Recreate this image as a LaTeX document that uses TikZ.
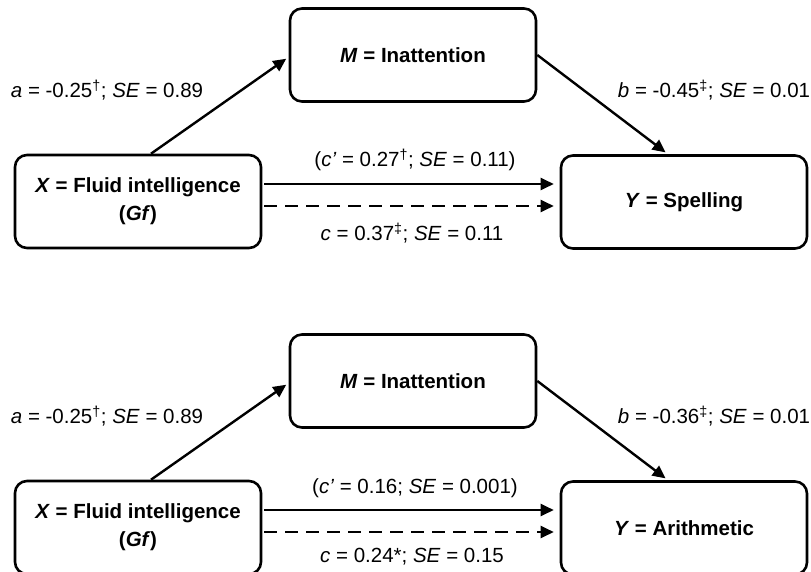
\documentclass[tikz,border=0pt]{standalone}
\usepackage{fontspec}
\setmainfont{Liberation Sans}
\usetikzlibrary{arrows.meta}

\begin{document}
\begin{tikzpicture}[x=1pt,y=-1pt,
	box/.style={draw,line width=2.6pt,rounded corners=12pt,minimum width=246pt,minimum height=93pt,inner sep=0pt,align=center,font=\fontsize{20.5}{28}\selectfont\bfseries},
	lab/.style={font=\fontsize{20.5}{28}\selectfont,inner sep=0pt},
	link/.style={line width=2.4pt,-{Triangle[length=13pt,width=12pt]},shorten >=3pt}]
	
	\useasboundingbox (0,0) rectangle (811,572);
	\clip (0,0) rectangle (811,572);
	
	% spelling
	\node[box] (Mtop) at (413,55) {\textit{M} = Inattention};
	\node[box] (Xtop) at (138,201.5) {\textit{X} = Fluid intelligence\\(\textit{Gf})};
	\node[box] (Ytop) at (684,202) {\textit{Y} = Spelling};
	
	\draw[link] ([xshift=13pt]Xtop.north) -- ([yshift=-2pt]Mtop.west);
	\draw[link] (Mtop.east) -- ([xshift=-16pt]Ytop.north);
	\draw[link,shorten <=2pt,shorten >=6pt] ([yshift=17.5pt]Xtop.east) -- ([yshift=18pt]Ytop.west);
	\draw[link,shorten <=2pt,shorten >=6pt,dash pattern=on 13pt off 8pt] ([yshift=-4.5pt]Xtop.east) -- ([yshift=-4pt]Ytop.west);
	
	\node[lab] (atop) at (107,90) {\textit{a} = -0.25\textsuperscript{†}; \textit{SE} = 0.89};
	\node[lab] (btop) at (714,90) {\textit{b} = -0.45\textsuperscript{‡}; \textit{SE} = 0.01};
	\node[lab] (cdtop) at (415,160) {(\textit{c'} = 0.27\textsuperscript{†}; \textit{SE} = 0.11)};
	\node[lab] (ctop) at (412,233) {\textit{c} = 0.37\textsuperscript{‡}; \textit{SE} = 0.11};
	
	% arithmetic
	\node[box] (Mbot) at (413,381) {\textit{M} = Inattention};
	\node[box] (Xbot) at (138,527.5) {\textit{X} = Fluid intelligence\\(\textit{Gf})};
	\node[box] (Ybot) at (684,528) {\textit{Y} = Arithmetic};
	
	\draw[link] ([xshift=13pt]Xbot.north) -- ([yshift=-2pt]Mbot.west);
	\draw[link] (Mbot.east) -- ([xshift=-16pt]Ybot.north);
	\draw[link,shorten <=2pt,shorten >=6pt] ([yshift=17.5pt]Xbot.east) -- ([yshift=18pt]Ybot.west);
	\draw[link,shorten <=2pt,shorten >=6pt,dash pattern=on 13pt off 8pt] ([yshift=-4.5pt]Xbot.east) -- ([yshift=-4pt]Ybot.west);
	
	\node[lab] (abot) at (107,416) {\textit{a} = -0.25\textsuperscript{†}; \textit{SE} = 0.89};
	\node[lab] (bbot) at (714,416) {\textit{b} = -0.36\textsuperscript{‡}; \textit{SE} = 0.01};
	\node[lab] (cdbot) at (415,488) {(\textit{c'} = 0.16; \textit{SE} = 0.001)};
	\node[lab] (cbot) at (412,557) {\textit{c} = 0.24*; \textit{SE} = 0.15};
	
\end{tikzpicture}
\end{document}
